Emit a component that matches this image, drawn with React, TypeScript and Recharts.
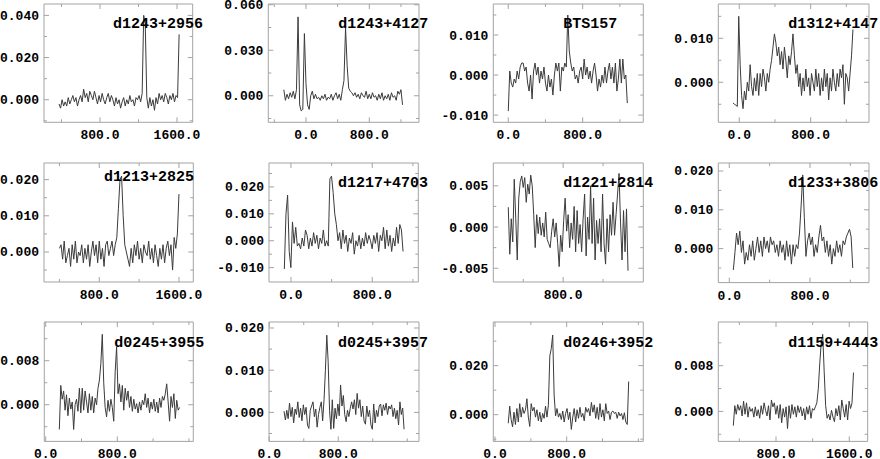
import React from 'react';
import { LineChart, Line, XAxis, YAxis, ReferenceArea } from 'recharts';

// ---------- data ----------
const names = ['d1243+2956', 'd1243+4127', 'BTS157', 'd1312+4147', 'd1213+2825', 'd1217+4703', 'd1221+2814', 'd1233+3806', 'd0245+3955', 'd0245+3957', 'd0246+3952', 'd1159+4443'];

// channel grids (first channel, channel width)
const p1Start = 374, p1Step = 16;
const p2Start = -280, p2Step = 20;
const p3Start = 0, p3Step = 16;
const p4Start = -70, p4Step = 16;
const p5Start = 400, p5Step = 16;
const p6Start = -65, p6Step = 16;
const p7Start = 250, p7Step = 15;
const p8Start = 40, p8Step = 16;
const p9Start = 152, p9Step = 16;
const p10Start = 171, p10Step = 16;
const p11Start = 148, p11Step = 16;
const p12Start = 334, p12Step = 16;

const p1Flux = [-0.002, -0.004, 0.000, -0.003, -0.001, -0.003, 0.001, -0.002, 0.000, 0.002, -0.001,
  0.001, -0.003, 0.000, 0.002, -0.001, 0.005, 0.001, 0.003, -0.001, 0.004,
  0.002, 0.000, 0.004, 0.001, -0.002, 0.002, -0.001, 0.003, 0.000, -0.002,
  0.001, 0.003, -0.001, 0.002, 0.000, -0.003, 0.001, -0.002, 0.000, -0.004,
  -0.001, 0.001, -0.003, 0.000, -0.002, 0.002, -0.001, 0.000, -0.003, 0.001,
  0.000, 0.002, -0.001, 0.003,
  0.040, 0.036, 0.001,
  -0.004, 0.001, -0.003, 0.000, -0.005, 0.001, -0.002, 0.003, 0.000, 0.002, -0.001, 0.003, 0.001, -0.002, 0.002, 0.000, 0.003, -0.001, 0.002, 0.001,
  0.031];

const p2Flux = [0.004, -0.003, 0.001, -0.002, 0.002, -0.001, 0.003, -0.002, 0.004, 0.052,
  -0.006, -0.010, -0.009, 0.041, 0.008, -0.006, -0.009, 0.000, 0.003, -0.002,
  0.001, -0.002, -0.001, -0.003, 0.000, -0.002, 0.001, -0.003, -0.001, -0.002,
  0.001, -0.003, 0.000, 0.002, -0.002, 0.001, -0.003, 0.004, 0.010, 0.045,
  0.020, 0.005, 0.003, 0.002, 0.000, 0.002, -0.001, 0.001, -0.002, 0.002,
  0.000, -0.001, 0.003, -0.002, 0.001, -0.002, 0.002, -0.001, 0.000, -0.003,
  0.001, -0.002, 0.002, -0.003, 0.000, -0.002, 0.001, -0.003, 0.002, -0.001,
  0.000, -0.003, 0.003, 0.001, 0.004, -0.006];

const p3Flux = [-0.009, 0.001, -0.002, -0.003, -0.001, -0.002, 0.001, -0.001, 0.002, 0.003,
  0.003, 0.001, 0.002, -0.002, -0.004, 0.000, -0.006, 0.001, 0.003, 0.000,
  0.002, -0.002, 0.001, -0.001, 0.002, -0.002, -0.004, 0.000, -0.003, -0.001,
  -0.005, 0.000, 0.003, 0.001, 0.003, -0.004, 0.002, 0.001, 0.003, 0.002,
  0.015, 0.006, 0.003, 0.001, 0.002, -0.001, 0.000, -0.002, 0.001, 0.002,
  -0.001, 0.004, 0.000, 0.002, -0.001, 0.001, -0.002, 0.001, 0.003, 0.000,
  -0.004, -0.001, -0.003, 0.000, -0.002, 0.002, -0.002, 0.001, 0.003, -0.001,
  0.002, -0.002, 0.003, -0.004, -0.001, 0.004, -0.002, 0.004, -0.001, 0.000,
  -0.007];

const p4Flux = [-0.0047, -0.005, -0.0052, -0.0055, 0.015, 0.004, -0.003, -0.006, -0.002, -0.004,
  0.000, -0.002, 0.004, -0.001, -0.003, 0.001, -0.002, 0.002, -0.003, 0.002,
  -0.001, 0.003, 0.001, -0.002, 0.002, 0.000, 0.003, 0.005, 0.008, 0.011,
  0.009, 0.006, 0.008, 0.004, 0.007, 0.003, 0.008, 0.005, 0.001, 0.006,
  0.004, 0.007, 0.011, 0.006, 0.002, 0.004, -0.001, 0.002, -0.003, 0.001,
  -0.002, 0.003, -0.001, 0.001, -0.003, 0.002, 0.000, -0.002, 0.003, -0.001,
  0.002, -0.003, 0.001, -0.002, 0.003, -0.001, 0.002, -0.004, 0.001, -0.002,
  0.003, 0.000, -0.002, 0.002, -0.001, 0.003, 0.001, 0.004, -0.005, 0.002,
  0.001, -0.002, 0.002, 0.006, 0.012];

const p5Flux = [0.001, 0.002, -0.002, 0.003, -0.003, -0.001, 0.001, -0.004, 0.002, -0.002,
  0.003, -0.003, 0.000, -0.001, 0.002, -0.003, 0.001, -0.002, 0.002, -0.004,
  0.000, 0.003, -0.001, 0.002, -0.003, 0.003, -0.002, 0.001, -0.004, 0.002,
  0.003, -0.001, 0.001, 0.003, -0.001, 0.002, 0.004, 0.012, 0.020, 0.021,
  0.010, 0.002, 0.000, -0.002, -0.004, 0.001, -0.003, 0.002, -0.001, 0.003,
  -0.002, 0.001, -0.003, 0.002, 0.000, -0.001, 0.003, -0.002, 0.001, -0.003,
  0.002, -0.001, -0.004, 0.001, -0.002, 0.002, -0.003, 0.001, 0.003, -0.001,
  0.002, -0.005, 0.004, 0.001, 0.005, 0.016];

const p6Flux = [-0.0105, 0.010, 0.017, -0.004, -0.010, 0.007, -0.001, 0.005, -0.002, -0.001,
  -0.003, 0.001, -0.002, 0.004, 0.002, -0.003, 0.001, -0.002, 0.003, -0.001,
  0.002, -0.003, 0.001, -0.001, 0.004, -0.002, 0.000, -0.002, 0.023, 0.024,
  0.018, 0.010, 0.006, 0.000, 0.003, -0.003, 0.004, -0.001, 0.002, -0.004,
  0.001, -0.001, 0.003, -0.005, 0.000, -0.002, 0.002, -0.003, 0.001, -0.002,
  0.003, -0.001, 0.002, 0.000, -0.003, 0.002, -0.001, 0.003, -0.004, 0.002,
  0.000, 0.005, -0.003, 0.004, -0.002, 0.002, -0.004, 0.001, -0.002, 0.005,
  -0.001, 0.006, 0.004, -0.004];

const p7Flux = [0.0024, -0.0033, 0.0010, -0.0018, 0.0058, 0.0010, -0.0040, 0.0035, 0.0055, 0.0062,
  0.0048, 0.0060, 0.0030, 0.0052, 0.0040, 0.0063, 0.0050, 0.0015, -0.0025, 0.0015,
  -0.0008, 0.0012, -0.0010, 0.0005, -0.0012, 0.0018, -0.0015, -0.0020, -0.0025, -0.0005,
  0.0010, -0.0012, 0.0005, -0.0020, -0.0048, -0.0010, -0.0030, 0.0008, 0.0035, -0.0005,
  0.0015, -0.0025, 0.0005, -0.0015, 0.0025, -0.0030, 0.0020, -0.0020, 0.0003, -0.0030,
  0.0010, 0.0040, -0.0035, 0.0012, -0.0015, 0.0050, -0.0020, 0.0035, -0.0040, 0.0008,
  -0.0020, 0.0010, -0.0030, 0.0040, -0.0020, -0.0045, 0.0010, -0.0030, 0.0015, -0.0010,
  0.0030, -0.0010, 0.0015, 0.0040, 0.0065, 0.0005, -0.0040, 0.0020, -0.0030, 0.0022,
  -0.0053];

const p8Flux = [-0.0055, -0.001, 0.004, 0.001, 0.0045, -0.001, 0.002, -0.004, -0.001, -0.003,
  0.001, -0.002, 0.002, -0.003, 0.000, 0.003, -0.001, 0.002, -0.002, 0.003,
  0.000, 0.002, -0.001, 0.003, 0.001, 0.002, -0.001, 0.001, -0.002, 0.002,
  -0.001, 0.001, -0.003, 0.002, -0.002, 0.001, -0.004, 0.001, -0.002, 0.001,
  0.000, 0.004, 0.011, 0.019, 0.008, -0.002, 0.002, 0.004, 0.001, 0.003,
  -0.002, 0.001, -0.001, 0.003, 0.006, 0.002, 0.003, -0.001, 0.002, -0.002,
  0.001, -0.004, 0.000, -0.002, 0.002, -0.001, 0.001, -0.002, 0.002, 0.001,
  0.003, 0.004, 0.005, 0.003, -0.005];

const p9Flux = [-0.0045, 0.0035, 0.0010, 0.0025, -0.0010, 0.0018, -0.0020, 0.0012, -0.0008, 0.0005,
  -0.0045, 0.0000, 0.0010, -0.0012, 0.0030, -0.0015, 0.0030, -0.0010, 0.0025, 0.0005,
  -0.0015, 0.0020, -0.0010, 0.0015, -0.0015, 0.0012, 0.0000, 0.0030, 0.0045, 0.0075,
  0.0128, 0.0040, -0.0005, -0.0022, 0.0008, -0.0012, 0.0010, -0.0005, -0.0030, 0.0060,
  0.0105, 0.0020, 0.0038, 0.0005, 0.0035, -0.0010, 0.0030, 0.0008, 0.0025, -0.0005,
  0.0015, -0.0012, 0.0010, -0.0008, 0.0002, -0.0015, 0.0005, -0.0010, 0.0008, 0.0000,
  0.0020, -0.0005, 0.0012, -0.0015, 0.0005, -0.0008, 0.0010, -0.0012, 0.0005, -0.0015,
  0.0012, -0.0005, 0.0015, 0.0008, 0.0020, 0.0038, 0.0005, -0.0030, 0.0015, -0.0005,
  0.0020, -0.0025, 0.0008, -0.0010, -0.0005];

const p10Flux = [0.0003, -0.0018, 0.0005, -0.0015, 0.0022, -0.0010, 0.0012, -0.0025, 0.0008, -0.0005,
  0.0025, -0.0012, 0.0010, -0.0020, 0.0018, -0.0005, 0.0012, -0.0030, -0.0038, 0.0005,
  0.0015, 0.0025, -0.0010, 0.0008, -0.0035, -0.0005, 0.0012, 0.0025, -0.0020, 0.0030,
  0.0100, 0.0183, 0.0120, 0.0005, -0.0040, 0.0030, -0.0038, 0.0010, -0.0015, 0.0020,
  -0.0008, 0.0065, 0.0015, 0.0040, -0.0005, -0.0022, 0.0005, -0.0010, 0.0010, 0.0025,
  0.0008, 0.0030, -0.0005, 0.0045, 0.0010, 0.0030, -0.0010, 0.0015, -0.0020, -0.0028,
  0.0015, -0.0010, 0.0005, -0.0030, -0.0040, 0.0020, -0.0025, 0.0005, -0.0010, 0.0015,
  0.0020, -0.0008, 0.0018, 0.0005, 0.0022, -0.0005, 0.0015, 0.0008, 0.0018, -0.0010,
  0.0010, -0.0015, 0.0005, -0.0030, 0.0025, -0.0005, 0.0010, -0.0040];

const p11Flux = [-0.0035, 0.0035, -0.0020, -0.0050, 0.0010, -0.0040, 0.0025, -0.0030, 0.0045, -0.0010,
  0.0030, 0.0005, 0.0020, 0.0065, -0.0010, -0.0048, 0.0045, 0.0015, 0.0030, -0.0010,
  0.0020, -0.0025, 0.0010, -0.0030, 0.0005, -0.0015, 0.0035, -0.0010, 0.0040, 0.0240,
  0.0270, 0.0325, 0.0080, -0.0005, 0.0025, -0.0010, 0.0005, -0.0020, 0.0015, -0.0030,
  0.0005, 0.0025, -0.0020, 0.0010, -0.0060, -0.0010, 0.0025, -0.0030, 0.0020, -0.0015,
  0.0030, -0.0010, 0.0005, -0.0025, 0.0030, 0.0010, 0.0025, -0.0005, 0.0050, 0.0010,
  0.0040, -0.0015, 0.0030, -0.0020, 0.0045, -0.0010, 0.0020, -0.0025, 0.0045, 0.0005,
  0.0015, -0.0020, 0.0010, 0.0015, 0.0005, 0.0010, -0.0015, 0.0010, -0.0005, 0.0005,
  -0.0020, 0.0008, -0.0030, -0.0040, 0.0135];

const p12Flux = [-0.0025, 0.0010, -0.0005, 0.0012, 0.0002, 0.0010, -0.0008, 0.0018, -0.0005, 0.0015,
  -0.0010, 0.0008, 0.0000, 0.0005, -0.0010, 0.0008, -0.0008, 0.0003, -0.0012, 0.0010,
  -0.0005, 0.0015, 0.0002, -0.0008, 0.0010, -0.0015, 0.0020, 0.0008, 0.0015, -0.0005,
  0.0010, -0.0012, 0.0012, -0.0020, 0.0005, -0.0010, 0.0008, -0.0030, 0.0010, -0.0012,
  0.0012, -0.0005, 0.0008, -0.0010, 0.0010, -0.0002, 0.0008, -0.0008, 0.0005, -0.0015,
  0.0008, -0.0005, 0.0010, -0.0012, 0.0005, 0.0002, 0.0008, 0.0015, 0.0040, 0.0085,
  0.0120, 0.0135, 0.0070, 0.0010, -0.0012, -0.0005, -0.0015, 0.0002, -0.0010, -0.0018,
  0.0005, -0.0008, 0.0010, -0.0015, 0.0020, 0.0005, -0.0010, 0.0012, -0.0015, 0.0018,
  0.0005, 0.0015, 0.0068];

// tick values (labelled majors, unlabelled minors)
const xMaj1 = [800, 1600], xMin1 = [400, 1200];
const xMaj2 = [0, 800], xMin2 = [-400, 400, 1200];
const xMaj3 = [0, 800], xMin3 = [400, 1200];
const xMaj4 = [0, 800], xMin4 = [400, 1200];
const xMaj5 = [800, 1600], xMin5 = [400, 1200];
const xMaj6 = [0, 800], xMin6 = [400, 1200];
const xMaj7 = [800], xMin7 = [400, 1200];
const xMaj8 = [0, 800], xMin8 = [400, 1200];
const xMaj9 = [0, 800], xMin9 = [400, 1200, 1600];
const xMaj10 = [0, 800], xMin10 = [400, 1200, 1600];
const xMaj11 = [0, 800], xMin11 = [400, 1200, 1600];
const xMaj12 = [800, 1600], xMin12 = [400, 1200];

const yMaj1 = [0, 0.02, 0.04], yMin1 = [-0.01, 0.01, 0.03];
const yMaj2 = [0, 0.03, 0.06], yMin2 = [-0.015, 0.015, 0.045];
const yMaj3 = [-0.01, 0, 0.01], yMin3 = [-0.005, 0.005, 0.015];
const yMaj4 = [0, 0.01], yMin4 = [-0.005, 0.005, 0.015];
const yMaj5 = [0, 0.01, 0.02], yMin5 = [-0.005, 0.005, 0.015];
const yMaj6 = [-0.01, 0, 0.01, 0.02], yMin6 = [-0.005, 0.005, 0.015, 0.025];
const yMaj7 = [-0.005, 0, 0.005], yMin7 = [-0.0025, 0.0025];
const yMaj8 = [0, 0.01, 0.02], yMin8 = [-0.005, 0.005, 0.015];
const yMaj9 = [0, 0.008], yMin9 = [-0.004, 0.004, 0.012];
const yMaj10 = [0, 0.01, 0.02], yMin10 = [-0.005, 0.005, 0.015];
const yMaj11 = [0, 0.02], yMin11 = [-0.01, 0.01, 0.03];
const yMaj12 = [0, 0.008], yMin12 = [-0.004, 0.004, 0.012];

// ---------- layout ----------
const COL_X = [0, 220, 440, 660];
const FRAME = '#a3a3a3';
const LINE = '#3a3a3a';
const MONO = '"Liberation Mono", "DejaVu Sans Mono", monospace';

type Panel = {
  name: string; start: number; step: number; flux: number[];
  col: number; L: number; R: number; T: number; B: number;
  xd: [number, number]; yd: [number, number];
  xMaj: number[]; xMin: number[]; yMaj: number[]; yMin: number[];
  lDx: number; lBase: number;
};

const panels: Panel[] = [
  { name: names[0], start: p1Start, step: p1Step, flux: p1Flux, col: 0, L: 44, R: 192.7, T: 4, B: 122.3, xd: [218, 1763], yd: [-0.0107, 0.0454], xMaj: xMaj1, xMin: xMin1, yMaj: yMaj1, yMin: yMin1, lDx: 69, lBase: 24 },
  { name: names[1], start: p2Start, step: p2Step, flux: p2Flux, col: 1, L: 268.3, R: 419, T: 4, B: 122.3, xd: [-476, 1428], yd: [-0.0175, 0.0605], xMaj: xMaj2, xMin: xMin2, yMaj: yMaj2, yMin: yMin2, lDx: 70, lBase: 24 },
  { name: names[2], start: p3Start, step: p3Step, flux: p3Flux, col: 2, L: 493.3, R: 643.3, T: 4, B: 122.3, xd: [-161, 1452], yd: [-0.0118, 0.01775], xMaj: xMaj3, xMin: xMin3, yMaj: yMaj3, yMin: yMin3, lDx: 70, lBase: 24 },
  { name: names[3], start: p4Start, step: p4Step, flux: p4Flux, col: 3, L: 718.3, R: 869, T: 4, B: 122.3, xd: [-235, 1454], yd: [-0.0091, 0.0178], xMaj: xMaj4, xMin: xMin4, yMaj: yMaj4, yMin: yMin4, lDx: 70, lBase: 24 },
  { name: names[4], start: p5Start, step: p5Step, flux: p5Flux, col: 0, L: 44, R: 193.3, T: 163.3, B: 282.3, xd: [245, 1744], yd: [-0.0083, 0.0246], xMaj: xMaj5, xMin: xMin5, yMaj: yMaj5, yMin: yMin5, lDx: 60, lBase: 18 },
  { name: names[5], start: p6Start, step: p6Step, flux: p6Flux, col: 1, L: 269, R: 418.3, T: 163.3, B: 282.3, xd: [-216, 1253], yd: [-0.01535, 0.0289], xMaj: xMaj6, xMin: xMin6, yMaj: yMaj6, yMin: yMin6, lDx: 69, lBase: 24 },
  { name: names[6], start: p7Start, step: p7Step, flux: p7Flux, col: 2, L: 493.3, R: 643.3, T: 163.3, B: 282.3, xd: [100, 1603], yd: [-0.00667, 0.00777], xMaj: xMaj7, xMin: xMin7, yMaj: yMaj7, yMin: yMin7, lDx: 70, lBase: 24 },
  { name: names[7], start: p8Start, step: p8Step, flux: p8Flux, col: 3, L: 718.3, R: 869, T: 162.7, B: 282.3, xd: [-109, 1385], yd: [-0.00876, 0.02206], xMaj: xMaj8, xMin: xMin8, yMaj: yMaj8, yMin: yMin8, lDx: 70, lBase: 25 },
  { name: names[8], start: p9Start, step: p9Step, flux: p9Flux, col: 0, L: 44.3, R: 193.3, T: 322.3, B: 441.7, xd: [-16, 1649], yd: [-0.00667, 0.01504], xMaj: xMaj9, xMin: xMin9, yMaj: yMaj9, yMin: yMin9, lDx: 70, lBase: 25.4 },
  { name: names[9], start: p10Start, step: p10Step, flux: p10Flux, col: 1, L: 269, R: 419, T: 322.3, B: 441.7, xd: [-3, 1736], yd: [-0.00687, 0.02142], xMaj: xMaj10, xMin: xMin10, yMaj: yMaj10, yMin: yMin10, lDx: 69, lBase: 25.4 },
  { name: names[10], start: p11Start, step: p11Step, flux: p11Flux, col: 2, L: 493.3, R: 643.3, T: 322.3, B: 441.7, xd: [-19, 1655], yd: [-0.0109, 0.0378], xMaj: xMaj11, xMin: xMin11, yMaj: yMaj11, yMin: yMin11, lDx: 70, lBase: 25.4 },
  { name: names[11], start: p12Start, step: p12Step, flux: p12Flux, col: 3, L: 718.3, R: 867.7, T: 322.3, B: 441.7, xd: [170, 1801], yd: [-0.00525, 0.01565], xMaj: xMaj12, xMin: xMin12, yMaj: yMaj12, yMin: yMin12, lDx: 70, lBase: 25.4 },
];

const inList = (arr: number[], v: number) => arr.some((m) => Math.abs(m - v) < 1e-9);

function PanelChart({ p }: { p: Panel }) {
  const colX = COL_X[p.col];
  const yw = p.L - colX;
  const bw = p.R - p.L;
  const bh = p.B - p.T;
  const rows = p.flux.map((f, i) => ({ x: p.start + i * p.step, y: f }));

  const XTick = (props: any) => {
    const { x, y, payload } = props;
    const v = payload.value as number;
    const major = inList(p.xMaj, v);
    const len = major ? 5 : 3;
    return (
      <g>
        <line x1={x} y1={y} x2={x} y2={y - len} stroke={FRAME} strokeWidth={1} />
        <line x1={x} y1={y - bh} x2={x} y2={y - bh + len} stroke={FRAME} strokeWidth={1} />
        {major && (
          <text x={x} y={y + 17} textAnchor="middle" fontFamily={MONO} fontSize={13} fontWeight="bold" fill="#000">
            {v.toFixed(1)}
          </text>
        )}
      </g>
    );
  };

  const YTick = (props: any) => {
    const { x, y, payload } = props;
    const v = payload.value as number;
    const major = inList(p.yMaj, v);
    const len = major ? 5 : 3;
    return (
      <g>
        <line x1={x} y1={y} x2={x + len} y2={y} stroke={FRAME} strokeWidth={1} />
        <line x1={x + bw} y1={y} x2={x + bw - len} y2={y} stroke={FRAME} strokeWidth={1} />
        {major && (
          <text x={x - 5} y={y + 4.5} textAnchor="end" fontFamily={MONO} fontSize={13} fontWeight="bold" fill="#000">
            {v.toFixed(3)}
          </text>
        )}
      </g>
    );
  };

  return (
    <div style={{ position: 'absolute', left: colX, top: p.T - 2 }}>
      <LineChart width={yw + bw + 3} height={bh + 24} data={rows} margin={{ top: 2, right: 3, bottom: 0, left: 0 }}>
        <XAxis dataKey="x" type="number" domain={p.xd} allowDataOverflow ticks={[...p.xMaj, ...p.xMin]} interval={0}
          tick={XTick} tickLine={false} axisLine={false} tickSize={0} tickMargin={0} height={22} />
        <YAxis type="number" domain={p.yd} allowDataOverflow ticks={[...p.yMaj, ...p.yMin]} interval={0}
          tick={YTick} tickLine={false} axisLine={false} tickSize={0} tickMargin={0} width={yw} />
        <ReferenceArea x1={p.xd[0]} x2={p.xd[1]} y1={p.yd[0]} y2={p.yd[1]} fill="none" fillOpacity={0} stroke={FRAME} strokeWidth={1} />
        <Line dataKey="y" type="linear" stroke={LINE} strokeWidth={1} dot={false} isAnimationActive={false} />
      </LineChart>
      <div style={{ position: 'absolute', left: p.L - colX + p.lDx, top: 2 + p.lBase - 11.5, fontFamily: MONO, fontSize: 15, fontWeight: 'bold', lineHeight: '15px', color: '#000', whiteSpace: 'nowrap' }}>
        {p.name}
      </div>
    </div>
  );
}

export default function App() {
  return (
    <div style={{ position: 'absolute', left: 0, top: 0, width: 880, height: 459, background: '#fff', overflow: 'hidden' }}>
      <style>{'.recharts-surface{overflow:visible !important}'}</style>
      {panels.map((p) => (
        <PanelChart key={p.name} p={p} />
      ))}
    </div>
  );
}
